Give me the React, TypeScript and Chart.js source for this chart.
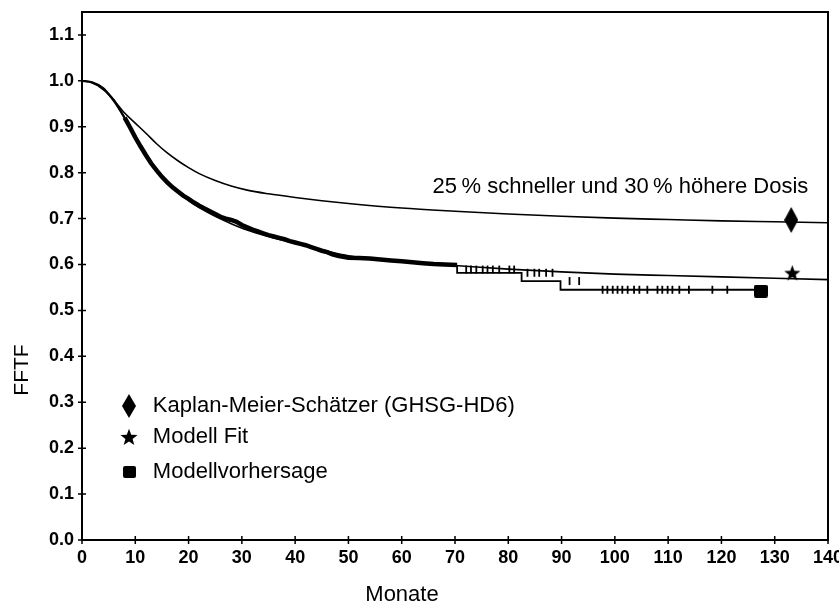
import React, { useEffect, useRef } from "react";
import { Chart, registerables } from "chart.js";

Chart.register(...registerables);

// ---- data ----
const upperMonths = [0, 2, 4, 6, 8, 10, 12, 14, 16, 18, 20, 22, 25, 28, 31, 35, 40, 45, 50, 60, 70, 80, 90, 100, 110, 120, 130, 140];
const upperFFTF = [1.0, 0.997, 0.985, 0.958, 0.93, 0.908, 0.886, 0.863, 0.843, 0.826, 0.811, 0.798, 0.783, 0.771, 0.762, 0.754, 0.746, 0.739, 0.733, 0.723, 0.716, 0.71, 0.705, 0.701, 0.698, 0.695, 0.693, 0.691];

const fitMonths = [0, 2, 4, 6, 8, 10, 12, 14, 16, 18, 20, 22, 25, 28, 31, 35, 40, 45, 50, 55, 60, 70, 80, 90, 100, 110, 120, 130, 140];
const fitFFTF = [1.0, 0.996, 0.982, 0.955, 0.918, 0.876, 0.838, 0.805, 0.778, 0.757, 0.739, 0.724, 0.705, 0.689, 0.675, 0.661, 0.646, 0.632, 0.619, 0.612, 0.606, 0.598, 0.59, 0.584, 0.579, 0.576, 0.573, 0.57, 0.567];

// Kaplan-Meier estimate: dense early part (0-70 months) and the stepped tail
const kmEarlyMonths = [0, 1.5, 3, 4.5, 6, 7, 8, 9, 10, 11, 12, 13, 14, 15, 16, 17, 18, 19, 20, 21, 22, 23, 24, 25, 26, 27, 28, 29, 30, 31, 32, 33, 34, 35, 36, 37, 38, 39, 40, 41, 42, 43, 44, 45, 46, 47, 48, 49, 50, 52, 54, 56, 58, 60, 62, 64, 66, 68, 70.4];
const kmEarlyFFTF = [1.0, 0.998, 0.99, 0.977, 0.958, 0.94, 0.92, 0.899, 0.877, 0.857, 0.838, 0.82, 0.805, 0.791, 0.779, 0.768, 0.759, 0.75, 0.743, 0.735, 0.728, 0.722, 0.716, 0.71, 0.704, 0.7, 0.697, 0.693, 0.686, 0.681, 0.676, 0.672, 0.668, 0.664, 0.661, 0.658, 0.655, 0.651, 0.648, 0.645, 0.642, 0.638, 0.634, 0.63, 0.627, 0.622, 0.619, 0.617, 0.615, 0.614, 0.613, 0.611, 0.609, 0.607, 0.605, 0.603, 0.601, 0.6, 0.599];
const kmTailMonths = [70.4, 70.4, 82.5, 89.8, 95.7, 127.3];
const kmTailFFTF = [0.599, 0.589, 0.582, 0.564, 0.545, 0.545];

const censorMonths = [72.1, 73.0, 74.0, 75.2, 76.1, 77.1, 78.3, 80.2, 81.1, 83.6, 84.9, 85.8, 87.1, 88.3, 91.5, 93.3, 97.7, 98.6, 99.6, 100.5, 101.4, 102.4, 103.6, 104.6, 106.1, 108.0, 108.9, 109.9, 110.8, 112.1, 113.9, 118.3, 121.1];
const censorFFTF = [0.589, 0.589, 0.589, 0.589, 0.589, 0.589, 0.589, 0.589, 0.589, 0.582, 0.582, 0.582, 0.582, 0.582, 0.564, 0.564, 0.545, 0.545, 0.545, 0.545, 0.545, 0.545, 0.545, 0.545, 0.545, 0.545, 0.545, 0.545, 0.545, 0.545, 0.545, 0.545, 0.545];

const diamondPoint = [133.1, 0.697];
const starPoint = [133.3, 0.582];
const squarePoint = [127.4, 0.542];

const legendLabels = ["Kaplan-Meier-Schätzer (GHSG-HD6)", "Modell Fit", "Modellvorhersage"];
const annotationText = "25\u2009% schneller und 30\u2009% höhere Dosis";
const xTitle = "Monate";
const yTitle = "FFTF";

const FONT = "'Liberation Sans', Arial, Helvetica, sans-serif";

function makeDiamond(w: number, h: number) {
  const c = document.createElement("canvas");
  c.width = w; c.height = h;
  const g = c.getContext("2d")!;
  g.fillStyle = "#000";
  g.beginPath();
  g.moveTo(w / 2, 0); g.lineTo(w, h / 2); g.lineTo(w / 2, h); g.lineTo(0, h / 2);
  g.closePath(); g.fill();
  return c;
}
function makeStar(size: number) {
  const c = document.createElement("canvas");
  c.width = size; c.height = size;
  const g = c.getContext("2d")!;
  g.fillStyle = "#000";
  const cx = size / 2, cy = size / 2 + 0.8, R = size / 2, r = R * 0.42;
  g.beginPath();
  for (let i = 0; i < 10; i++) {
    const a = -Math.PI / 2 + (i * Math.PI) / 5;
    const rad = i % 2 === 0 ? R : r;
    const px = cx + rad * Math.cos(a), py = cy + rad * Math.sin(a);
    if (i === 0) g.moveTo(px, py); else g.lineTo(px, py);
  }
  g.closePath(); g.fill();
  return c;
}
function makeSquare(w: number, h: number) {
  const c = document.createElement("canvas");
  c.width = w; c.height = h;
  const g = c.getContext("2d")!;
  g.fillStyle = "#000";
  g.beginPath();
  (g as any).roundRect ? (g as any).roundRect(0, 0, w, h, 2) : g.rect(0, 0, w, h);
  g.fill();
  return c;
}

export default function App() {
  const ref = useRef<HTMLCanvasElement | null>(null);

  useEffect(() => {
    document.body.style.margin = "0";
    const canvas = ref.current!;
    const diamond = makeDiamond(14, 26);
    const star = makeStar(17);
    const square = makeSquare(14, 13);
    const legDiamond = makeDiamond(14, 24);
    const legStar = makeStar(18);
    const legSquare = makeSquare(13, 12);

    const decor = {
      id: "decor",
      afterDraw(chart: any) {
        const ctx = chart.ctx as CanvasRenderingContext2D;
        const a = chart.chartArea;
        const xs = chart.scales.x, ys = chart.scales.y;
        ctx.save();
        ctx.strokeStyle = "#000";
        ctx.lineWidth = 2;
        ctx.strokeRect(a.left, a.top, a.right - a.left, a.bottom - a.top);
        ctx.lineWidth = 1.5;
        ctx.beginPath();
        xs.ticks.forEach((t: any) => {
          const px = xs.getPixelForValue(t.value);
          ctx.moveTo(px, a.bottom - 4); ctx.lineTo(px, a.bottom + 4);
        });
        ys.ticks.forEach((t: any) => {
          const py = ys.getPixelForValue(t.value);
          ctx.moveTo(a.left - 4, py); ctx.lineTo(a.left + 4, py);
        });
        ctx.stroke();

        ctx.fillStyle = "#000";
        ctx.font = `22px ${FONT}`;
        ctx.textBaseline = "middle";
        ctx.textAlign = "left";
        // annotation
        ctx.fillText(annotationText, xs.getPixelForValue(65.8), ys.getPixelForValue(0.769));

        // legend
        const legRows = [0.291, 0.224, 0.148];
        const marks = [legDiamond, legStar, legSquare];
        legRows.forEach((v, i) => {
          const py = ys.getPixelForValue(v);
          const mx = xs.getPixelForValue(8.9);
          const m = marks[i];
          ctx.drawImage(m, Math.round(mx - m.width / 2), Math.round(py - m.height / 2));
          ctx.fillText(legendLabels[i], xs.getPixelForValue(13.3), py);
        });

        // axis titles
        ctx.textAlign = "center";
        ctx.fillText(xTitle, 402, 595);
        ctx.font = `21px ${FONT}`;
        ctx.save();
        ctx.translate(22, 370);
        ctx.rotate(-Math.PI / 2);
        ctx.fillText(yTitle, 0, 0);
        ctx.restore();
        ctx.restore();
      },
    };

    const toXY = (xs: number[], ys: number[]) => xs.map((x, i) => ({ x, y: ys[i] }));

    const chart = new Chart(canvas, {
      type: "scatter",
      data: {
        datasets: [
          {
            label: "upper",
            data: toXY(upperMonths, upperFFTF),
            showLine: true,
            borderColor: "#000",
            borderWidth: 1.6,
            pointRadius: 0,
            cubicInterpolationMode: "monotone",
          },
          {
            label: "fit",
            data: toXY(fitMonths, fitFFTF),
            showLine: true,
            borderColor: "#000",
            borderWidth: 1.6,
            pointRadius: 0,
            cubicInterpolationMode: "monotone",
          },
          {
            label: "km-early",
            data: toXY(kmEarlyMonths, kmEarlyFFTF),
            showLine: true,
            borderColor: "#000",
            borderWidth: 4,
            pointRadius: 0,
            segment: {
              borderWidth: (c: any) => (c.p0.parsed.x >= 8 ? 4.5 : 2),
            },
          },
          {
            label: "km-tail",
            data: toXY(kmTailMonths, kmTailFFTF),
            showLine: true,
            stepped: "after",
            borderColor: "#000",
            borderWidth: 1.8,
            pointRadius: 0,
          },
          {
            label: "censor",
            data: toXY(censorMonths, censorFFTF),
            showLine: false,
            pointStyle: "line",
            rotation: 90,
            pointRadius: 4,
            borderColor: "#000",
            borderWidth: 1.8,
          },
          {
            label: "km-end",
            data: [{ x: diamondPoint[0], y: diamondPoint[1] }],
            pointStyle: diamond,
            pointRadius: 10,
          },
          {
            label: "fit-end",
            data: [{ x: starPoint[0], y: starPoint[1] }],
            pointStyle: star,
            pointRadius: 9,
          },
          {
            label: "pred-end",
            data: [{ x: squarePoint[0], y: squarePoint[1] }],
            pointStyle: square,
            pointRadius: 7,
          },
        ] as any,
      },
      options: {
        animation: false,
        responsive: false,
        events: [],
        layout: { padding: { top: 12, right: 10, left: 0, bottom: 0 } },
        plugins: { legend: { display: false }, tooltip: { enabled: false }, title: { display: false } },
        scales: {
          x: {
            type: "linear",
            min: 0,
            max: 140,
            grid: { display: false, drawTicks: false },
            border: { display: false },
            afterFit: (s: any) => { s.height = 67; s.paddingLeft = 0; s.paddingRight = 0; },
            ticks: {
              stepSize: 10,
              color: "#000",
              padding: 7,
              maxRotation: 0,
              font: { family: FONT, size: 18, weight: "bold" },
            },
          },
          y: {
            type: "linear",
            min: 0,
            max: 1.15,
            grid: { display: false, drawTicks: false },
            border: { display: false },
            afterFit: (s: any) => { s.width = 82; s.paddingTop = 0; s.paddingBottom = 0; },
            ticks: {
              stepSize: 0.1,
              includeBounds: false,
              color: "#000",
              padding: 8,
              font: { family: FONT, size: 18, weight: "bold" },
              callback: (v: any) => Number(v).toFixed(1),
            },
          },
        },
      } as any,
      plugins: [decor],
    });
    return () => chart.destroy();
  }, []);

  return (
    <div style={{ width: 839, height: 607, background: "#fff" }}>
      <canvas ref={ref} width={839} height={607} style={{ display: "block" }} />
    </div>
  );
}
